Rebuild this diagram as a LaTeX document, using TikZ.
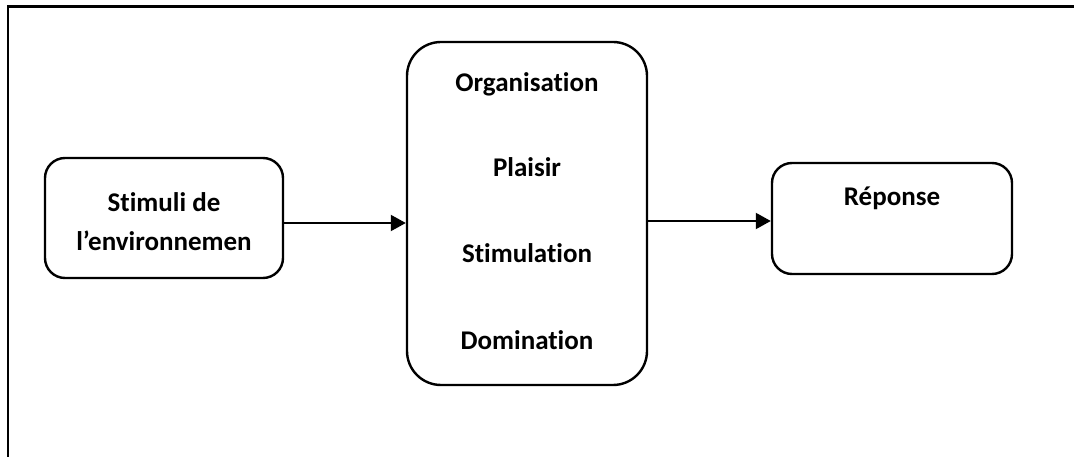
\documentclass[tikz,border=0pt]{standalone}
\usepackage{fontspec}
\setmainfont{Carlito}[Ligatures={NoCommon,TeX}]
\usetikzlibrary{arrows.meta}
\begin{document}
\begin{tikzpicture}[x=1pt,y=-1pt,
  box/.style={draw,line width=2.4pt,rounded corners=#1,inner sep=0pt},
  lbl/.style={font=\fontsize{27}{31}\selectfont\bfseries,inner sep=0pt,anchor=base},
  link/.style={line width=2pt,-{Triangle[length=15pt,width=16pt]}}]
\useasboundingbox (0,0) rectangle (1074,457);
% open frame along the top and left
\draw[line width=2.6pt] (8,457) -- (8,6.5) -- (1074,6.5);
% boxes
\node[box=20pt,minimum width=238pt,minimum height=120pt] (stim) at (164,218) {};
\node[box=34pt,minimum width=240pt,minimum height=343pt] (org) at (527,213.5) {};
\node[box=20pt,minimum width=240pt,minimum height=111pt] (rep) at (892,218.5) {};
% texts
\node[lbl] (s1) at (164,212) {Stimuli de};
\node[lbl] (s2) at (164,251) {l’environnemen};
\node[lbl] (o1) at (527,92) {Organisation};
\node[lbl] (o2) at (527,177) {Plaisir};
\node[lbl] (o3) at (527,262) {Stimulation};
\node[lbl] (o4) at (527,349) {Domination};
\node[lbl] (r1) at (892,206) {Réponse};
% connectors
\coordinate (y1) at (0,223);
\coordinate (y2) at (0,221);
\draw[link] (stim.east |- y1) -- (org.west |- y1);
\draw[link] (org.east |- y2) -- (rep.west |- y2);
\end{tikzpicture}
\end{document}
